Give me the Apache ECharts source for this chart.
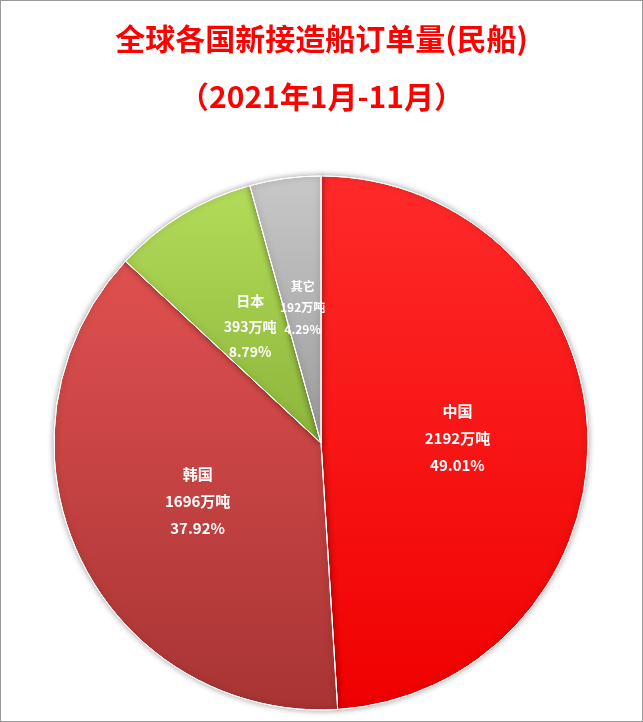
<!DOCTYPE html>
<html><head><meta charset="utf-8">
<script src="https://cdn.jsdelivr.net/npm/echarts@6/dist/echarts.min.js"></script>
<style>html,body{margin:0;padding:0;background:#fff}#c{width:641px;height:720px;border:1px solid #999}</style>
</head><body><div id="c"></div>
<script>
const categories=['中国','韩国','日本','其它'];
const tons=[2192,1696,393,192];
const percents=['49.01%','37.92%','8.79%','4.29%'];
const colors=[['#ff2a2a','#f00000'],['#e05050','#a83434'],['#b4dc5a','#8cb53a'],['#c8c8c8','#9c9c9c']];
const fontSizes=[15,15,14,12];
const chart=echarts.init(document.getElementById('c'));
chart.setOption({
  title:[{text:'全球各国新接造船订单量(民船)',left:'center',top:18,textStyle:{color:'#ff0000',fontSize:30,fontWeight:'bold',fontFamily:'Noto Sans CJK SC'}},
         {text:'（2021年1月-11月）',left:'center',top:76,textStyle:{color:'#ff0000',fontSize:30,fontWeight:'bold',fontFamily:'Noto Sans CJK SC'}}],
  series:[{type:'pie',center:[320,442],radius:267,startAngle:90,clockwise:true,
    itemStyle:{borderColor:'#ffffff',borderWidth:1,shadowBlur:6,shadowColor:'rgba(0,0,0,0.35)'},
    label:{position:'inner',color:'#fff',fontWeight:'bold',lineHeight:27,fontFamily:'Noto Sans CJK SC',
      formatter:p=>p.name+'\n'+tons[p.dataIndex]+'万吨\n'+percents[p.dataIndex]},
    data:categories.map((n,i)=>({name:n,value:tons[i],
      label:{fontSize:fontSizes[i],lineHeight:fontSizes[i]*1.8},
      itemStyle:{color:new echarts.graphic.LinearGradient(0,0,0,1,[{offset:0,color:colors[i][0]},{offset:1,color:colors[i][1]}])}}))
  }]
});
</script></body></html>
